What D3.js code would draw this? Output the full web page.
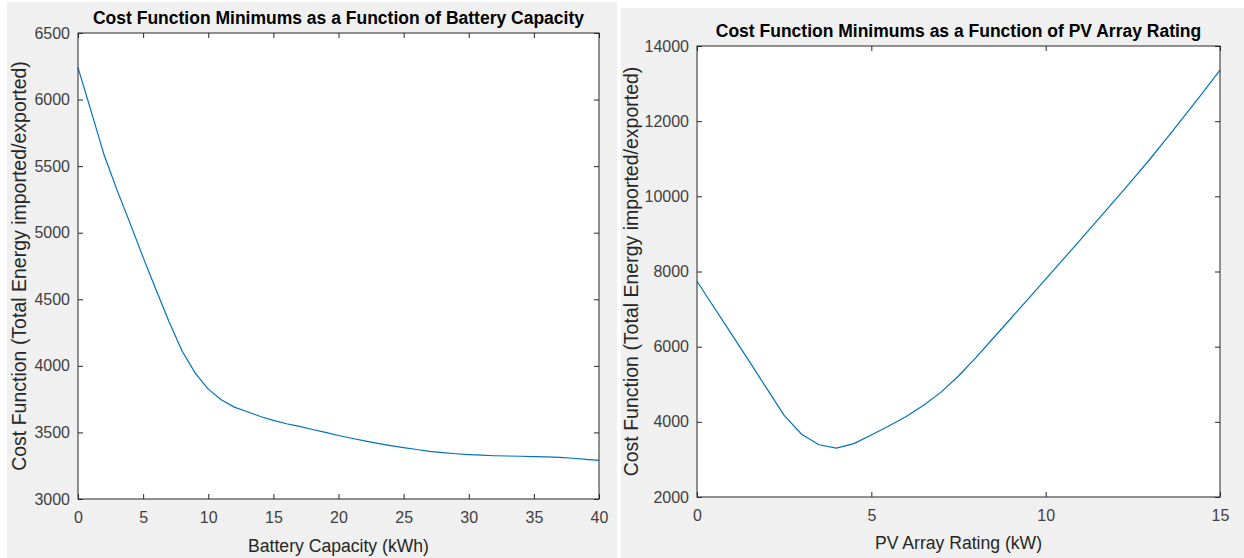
<!DOCTYPE html>
<html>
<head>
<meta charset="utf-8">
<script src="https://cdn.jsdelivr.net/npm/d3@7"></script>
<style>
  html, body { margin: 0; padding: 0; background: #ffffff; }
  svg { display: block; }
  text { font-family: "Liberation Sans", Arial, Helvetica, sans-serif; }
</style>
</head>
<body>
<svg id="chart" width="1244" height="558"></svg>
<script>
// Battery sweep: minimum cost per battery capacity (kWh)
const batteryCapacity = [0,1,2,3,4,5,6,7,8,9,10,11,12,13,14,15,16,17,18,19,20,
  21,22,23,24,25,26,27,28,29,30,31,32,33,34,35,36,37,38,39,40];
const batteryCost = [6240,5915,5585,5320,5070,4815,4570,4330,4110,3945,3825,
  3745,3690,3655,3620,3590,3565,3545,3522,3500,3477,3456,3436,3418,3401,3386,
  3372,3358,3348,3340,3334,3329,3325,3323,3321,3319,3317,3313,3306,3298,3290];
const batteryXTicks = [0,5,10,15,20,25,30,35,40];
const batteryYTicks = [3000,3500,4000,4500,5000,5500,6000,6500];

// PV sweep: minimum cost per PV array rating (kW)
const pvRating = [0,0.5,1,1.5,2,2.5,3,3.5,4,4.5,5,5.5,6,6.5,7,7.5,8,8.5,9,9.5,
  10,10.5,11,11.5,12,12.5,13,13.5,14,14.5,15];
const pvCost = [7740,7030,6320,5610,4890,4170,3670,3390,3300,3420,3650,3890,
  4140,4440,4790,5220,5710,6230,6750,7270,7795,8320,8850,9380,9910,10450,
  11000,11575,12160,12755,13360];
const pvXTicks = [0,5,10,15];
const pvYTicks = [2000,4000,6000,8000,10000,12000,14000];

const svg = d3.select("#chart");
const LINE = "#0072BD", AX = "#262626", FIG = "#f0f0f0";

function panel(cfg) {
  const g = svg.append("g");
  // figure background
  g.append("rect").attr("x", cfg.bg[0]).attr("y", cfg.bg[1])
    .attr("width", cfg.bg[2]).attr("height", cfg.bg[3]).attr("fill", FIG);

  const x = d3.scaleLinear().domain(cfg.xDomain).range([cfg.left, cfg.right]);
  const y = d3.scaleLinear().domain(cfg.yDomain).range([cfg.bottom, cfg.top]);

  // axes background
  g.append("rect").attr("x", cfg.left).attr("y", cfg.top)
    .attr("width", cfg.right - cfg.left).attr("height", cfg.bottom - cfg.top)
    .attr("fill", "#ffffff");

  const tl = 5;
  const styleAxis = sel => {
    sel.select(".domain").remove();
    sel.selectAll("line").attr("stroke", AX).attr("stroke-width", 1);
    sel.selectAll("text").attr("fill", "#404040").style("font-size", "16px")
      .style("font-family", '"Liberation Sans", Arial, sans-serif');
  };

  // bottom axis (ticks inside)
  g.append("g").attr("transform", `translate(0,${cfg.bottom})`)
    .call(d3.axisBottom(x).tickValues(cfg.xTicks).tickFormat(d3.format("d"))
      .tickSizeInner(-tl).tickSizeOuter(0).tickPadding(13))
    .call(styleAxis);
  // top axis mirror ticks
  g.append("g").attr("transform", `translate(0,${cfg.top})`)
    .call(d3.axisTop(x).tickValues(cfg.xTicks).tickFormat("")
      .tickSizeInner(-tl).tickSizeOuter(0))
    .call(styleAxis);
  // left axis
  g.append("g").attr("transform", `translate(${cfg.left},0)`)
    .call(d3.axisLeft(y).tickValues(cfg.yTicks).tickFormat(d3.format("d"))
      .tickSizeInner(-tl).tickSizeOuter(0).tickPadding(8))
    .call(styleAxis);
  // right axis mirror ticks
  g.append("g").attr("transform", `translate(${cfg.right},0)`)
    .call(d3.axisRight(y).tickValues(cfg.yTicks).tickFormat("")
      .tickSizeInner(-tl).tickSizeOuter(0))
    .call(styleAxis);

  // data line
  const line = d3.line().x(d => x(d[0])).y(d => y(d[1]));
  g.append("path").datum(d3.zip(cfg.xs, cfg.ys))
    .attr("d", line).attr("fill", "none").attr("stroke", LINE)
    .attr("stroke-width", 1.2).attr("stroke-linejoin", "round");

  // axes box
  g.append("rect").attr("x", cfg.left).attr("y", cfg.top)
    .attr("width", cfg.right - cfg.left).attr("height", cfg.bottom - cfg.top)
    .attr("fill", "none").attr("stroke", AX).attr("stroke-width", 1);

  // title
  g.append("text").attr("x", (cfg.left + cfg.right) / 2).attr("y", cfg.top - 9)
    .attr("text-anchor", "middle").attr("fill", "#000")
    .style("font-size", "17.5px").style("font-weight", "bold")
    .text(cfg.title);
  // x label
  g.append("text").attr("x", (cfg.left + cfg.right) / 2).attr("y", cfg.xLabelY)
    .attr("text-anchor", "middle").attr("fill", "#262626")
    .style("font-size", "17.6px").text(cfg.xLabel);
  // y label
  g.append("text")
    .attr("transform", `translate(${cfg.yLabelX},${(cfg.top + cfg.bottom) / 2}) rotate(-90)`)
    .attr("text-anchor", "middle").attr("fill", "#262626")
    .style("font-size", "19.5px").text(cfg.yLabel);
}

panel({
  bg: [7, 2, 610, 556],
  left: 78, right: 599, top: 33, bottom: 499,
  xDomain: [0, 40], yDomain: [3000, 6500],
  xTicks: batteryXTicks, yTicks: batteryYTicks,
  xs: batteryCapacity, ys: batteryCost,
  title: "Cost Function Minimums as a Function of Battery Capacity",
  xLabel: "Battery Capacity (kWh)", xLabelY: 552,
  yLabel: "Cost Function (Total Energy imported/exported)", yLabelX: 26
});

panel({
  bg: [621, 8, 623, 550],
  left: 697, right: 1220, top: 46, bottom: 497,
  xDomain: [0, 15], yDomain: [2000, 14000],
  xTicks: pvXTicks, yTicks: pvYTicks,
  xs: pvRating, ys: pvCost,
  title: "Cost Function Minimums as a Function of PV Array Rating",
  xLabel: "PV Array Rating (kW)", xLabelY: 549,
  yLabel: "Cost Function (Total Energy imported/exported)", yLabelX: 638
});
</script>
</body>
</html>
